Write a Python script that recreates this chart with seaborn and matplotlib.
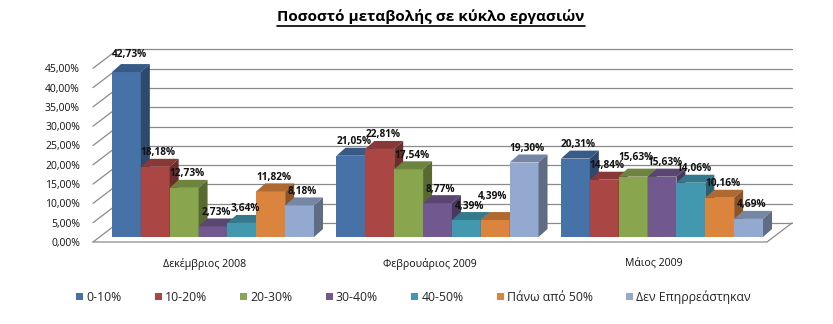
import matplotlib
matplotlib.use("Agg")
import matplotlib.pyplot as plt
import matplotlib.transforms as mtransforms
from matplotlib.patches import Polygon, Patch
from matplotlib.lines import Line2D
import seaborn as sns
import pandas as pd
import numpy as np

# ---- data -------------------------------------------------------------
periods = ["Δεκέμβριος 2008", "Φεβρουάριος 2009", "Μάιος 2009"]
ranges = ["0-10%", "10-20%", "20-30%", "30-40%", "40-50%",
          "Πάνω από 50%", "Δεν Επηρρεάστηκαν"]
dec_2008 = [42.73, 18.18, 12.73, 2.73, 3.64, 11.82, 8.18]
feb_2009 = [21.05, 22.81, 17.54, 8.77, 4.39, 4.39, 19.30]
may_2009 = [20.31, 14.84, 15.63, 15.63, 14.06, 10.16, 4.69]
y_ticks = [0, 5, 10, 15, 20, 25, 30, 35, 40, 45]
title = "Ποσοστό μεταβολής σε κύκλο εργασιών"

colors = ["#4672A8", "#AA4643", "#89A54E", "#71588F",
          "#4198AF", "#DB843D", "#93A9CF"]

rows = []
for period, vals in zip(periods, [dec_2008, feb_2009, may_2009]):
    for rng, v in zip(ranges, vals):
        rows.append({"period": period, "range": rng, "value": v})
df = pd.DataFrame(rows)

# ---- style ------------------------------------------------------------
sns.set_style("white")
plt.rcParams["font.family"] = ["Open Sans", "DejaVu Sans"]

W, H, DPI = 833, 324, 100
fig = plt.figure(figsize=(W / DPI, H / DPI), dpi=DPI)
fig.patch.set_facecolor("white")

# axes = front plane of the columns (value 0 on the column bases)
px_per_unit = 3.86
base_px = 237
left_px, right_px = 93, 767
ax = fig.add_axes([left_px / W, (H - base_px) / H,
                   (right_px - left_px) / W, 45 * px_per_unit / H])

sns.barplot(data=df, x="period", y="value", hue="range", order=periods,
            hue_order=ranges, palette=colors, width=0.9, saturation=1,
            ax=ax, legend=False, linewidth=0, edgecolor="none")

cat_pitch = 224.5
xlim0 = -(213 - left_px) / cat_pitch
xlim1 = 2 + (right_px - 662) / cat_pitch
ax.set_xlim(xlim0, xlim1)
ax.set_ylim(0, 45)
ax.patch.set_visible(False)
for s in ax.spines.values():
    s.set_visible(False)
ax.set_xlabel("")
ax.set_ylabel("")


def shifted(dx, dy):
    return ax.transData + mtransforms.ScaledTranslation(dx / DPI, dy / DPI,
                                                        fig.dpi_scale_trans)


front = shifted(0, -5)
back = shifted(25, 14)
ident = mtransforms.IdentityTransform()
grid_col = "#8a8a8a"

# back wall gridlines and side-wall diagonals
for v in y_ticks:
    ax.add_line(Line2D([xlim0, xlim1], [v, v], transform=back, color=grid_col,
                       lw=0.9, zorder=0.5, clip_on=False))
    p0 = front.transform((xlim0, v))
    p1 = back.transform((xlim0, v))
    ax.add_line(Line2D([p0[0], p1[0]], [p0[1], p1[1]], transform=ident,
                       color=grid_col, lw=0.9, zorder=0.5, clip_on=False))

# floor outline
f0 = front.transform((xlim0, 0))
f1 = front.transform((xlim1, 0))
b1 = back.transform((xlim1, 0))
ax.add_line(Line2D([f0[0], f1[0], b1[0]], [f0[1], f1[1], b1[1]],
                   transform=ident, color=grid_col, lw=0.9, zorder=0.5,
                   clip_on=False))

# ticks
ax.set_yticks(y_ticks, labels=[f"{t:.2f}%".replace(".", ",") for t in y_ticks])
ax.set_xticks(range(len(periods)), labels=periods)
ax.tick_params(axis="y", length=0, pad=9.4, labelsize=7.5, labelcolor="#111111")
ax.tick_params(axis="x", length=0, pad=15, labelsize=7.6, labelcolor="#111111")
for lbl in ax.get_yticklabels():
    lbl.set_transform(lbl.get_transform() + mtransforms.ScaledTranslation(
        0, -5 / DPI, fig.dpi_scale_trans))
for lbl in ax.get_xticklabels():
    lbl.set_transform(lbl.get_transform() + mtransforms.ScaledTranslation(
        -8 / DPI, 0, fig.dpi_scale_trans))

# ---- 3D faces on the columns -----------------------------------------
depth_dx, depth_dy = 9, 8
bars = [p for p in ax.patches if p.get_width() > 0]
bars.sort(key=lambda p: p.get_x())


def shade(c, f):
    r, g, b = matplotlib.colors.to_rgb(c)
    return (r * f, g * f, b * f)


label_nudge = {
    (1, 5): (-6, 10),
    (2, 2): (0, 5),
    (0, 0): (0, 4),
}

for k, p in enumerate(bars):
    z = 2 + k * 0.1
    p.set_zorder(z)
    x, w, h = p.get_x(), p.get_width(), p.get_height()
    X0, Y0 = ax.transData.transform((x, 0))
    X1, Y1 = ax.transData.transform((x + w, h))
    col = p.get_facecolor()
    top = Polygon([(X0, Y1), (X1, Y1), (X1 + depth_dx, Y1 + depth_dy),
                   (X0 + depth_dx, Y1 + depth_dy)], closed=True,
                  transform=ident, facecolor=shade(col, 0.8),
                  edgecolor="none", zorder=z + 0.05, clip_on=False)
    side = Polygon([(X1, Y0), (X1, Y1), (X1 + depth_dx, Y1 + depth_dy),
                    (X1 + depth_dx, Y0 + depth_dy)], closed=True,
                   transform=ident, facecolor=shade(col, 0.64),
                   edgecolor="none", zorder=z + 0.05, clip_on=False)
    ax.add_patch(top)
    ax.add_patch(side)

# ---- value labels -----------------------------------------------------
all_vals = [dec_2008, feb_2009, may_2009]
n = len(ranges)
for k, p in enumerate(bars):
    gi, si = k // n, k % n
    v = all_vals[gi][si]
    ndx, ndy = label_nudge.get((gi, si), (0, 0))
    ax.annotate(f"{v:.2f}%".replace(".", ","),
                xy=(p.get_x() + p.get_width() / 2, v),
                xytext=(3 + ndx, 14 + ndy), textcoords="offset pixels",
                ha="center", va="center", fontsize=7.3, fontweight="bold",
                color="#111111", zorder=20, annotation_clip=False)

# ---- title ------------------------------------------------------------
t = fig.text(431 / W, 1 - 17 / H, title, ha="center", va="center",
             fontsize=11, fontweight="bold", color="black")
fig.canvas.draw()
bb = t.get_window_extent()
fig.add_artist(Line2D([bb.x0, bb.x1], [bb.y0 - 1, bb.y0 - 1],
                      transform=ident, color="black", lw=1.2))

# ---- legend -----------------------------------------------------------
handles = [Patch(facecolor=c, edgecolor="none", label=r)
           for c, r in zip(colors, ranges)]
fig.legend(handles=handles, loc="center", bbox_to_anchor=(413.5 / W, 1 - 297 / H),
           ncol=7, frameon=False, fontsize=8.8, handlelength=0.55,
           handleheight=0.55, handletextpad=0.25, columnspacing=2.75,
           borderaxespad=0)

fig.savefig("out.png", dpi=DPI)
